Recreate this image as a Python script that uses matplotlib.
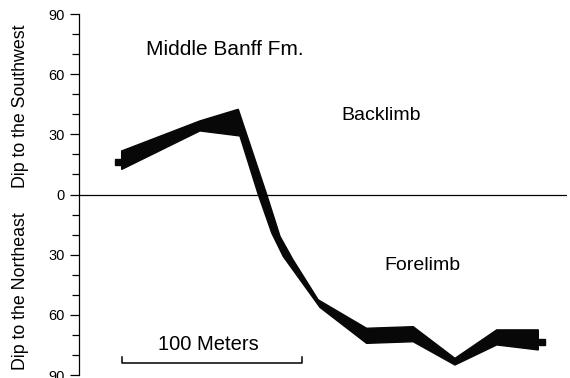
import matplotlib
matplotlib.use("Agg")
import matplotlib.pyplot as plt
import numpy as np

plt.rcParams['font.family'] = ['Liberation Sans', 'DejaVu Sans']

# distance along section (m) and dip (deg, + = SW, - = NE) of band edges
upper_x = [23.7, 67.2, 88.5, 104.3, 111.7, 118.9, 132.9, 159.8, 185.7, 208.9, 232.1, 255.2]
upper_y = [21.7, 36.7, 42.5, 0.0, -20.9, -32.5, -52.5, -66.7, -65.9, -81.7, -67.5, -67.5]
lower_x = [23.7, 67.2, 89.4, 99.6, 107.1, 113.5, 133.9, 159.8, 185.7, 208.9, 232.1, 255.2]
lower_y = [12.5, 31.7, 29.2, 0.0, -19.2, -30.9, -56.3, -74.2, -73.4, -85.0, -75.0, -77.5]

# small end caps of the band
end_x = [21.7, 257.0]
end_y = [16.0, -73.3]

ytick_vals = [-90, -60, -30, 0, 30, 60, 90]
ytick_labels = ['90', '60', '30', '0', '30', '60', '90']

scale_start = 23.7
scale_len = 100

fig = plt.figure(figsize=(5.7, 3.78), dpi=100)
ax = fig.add_axes([0.1386, 0.0079, 0.856, 0.955])

poly_x = upper_x + lower_x[::-1]
poly_y = upper_y + lower_y[::-1]
ax.fill(poly_x, poly_y, color='#080808', lw=1.0, ec='#080808')
ax.plot(end_x, end_y, ls='none', marker='s', ms=4.5, color='#080808')

ax.axhline(0, color='black', lw=0.9)

ax.set_xlim(0, 271.1)
ax.set_ylim(-90, 90)
for s in ['top', 'right', 'bottom']:
    ax.spines[s].set_visible(False)
ax.spines['left'].set_linewidth(0.9)
ax.set_xticks([])
ax.set_yticks(ytick_vals)
ax.set_yticklabels(ytick_labels)
ax.set_yticks(np.arange(-90, 91, 10), minor=True)
ax.tick_params(axis='y', which='major', length=6.5, width=0.9, pad=3.5, labelsize=10.5)
ax.tick_params(axis='y', which='minor', length=5.4, width=0.9)

# scale bar
sx = [scale_start, scale_start, scale_start + scale_len, scale_start + scale_len]
sy = [-80.8, -83.9, -83.9, -80.8]
ax.plot(sx, sy, color='black', lw=1.1, clip_on=False)
ax.text(scale_start + scale_len / 2 - 2, -77.5, '100 Meters', ha='center', va='baseline', fontsize=14.5)

ax.text(81.1, 69.6, 'Middle Banff Fm.', ha='center', va='baseline', fontsize=15)
ax.text(167.7, 37.2, 'Backlimb', ha='center', va='baseline', fontsize=14)
ax.text(190.8, -37.5, 'Forelimb', ha='center', va='baseline', fontsize=14)

fig.text(21 / 570, 0.718, 'Dip to the Southwest', rotation=90, ha='center', va='center', fontsize=12.8)
fig.text(21 / 570, 0.229, 'Dip to the Northeast', rotation=90, ha='center', va='center', fontsize=12.8)

fig.savefig('out.png', dpi=100)
